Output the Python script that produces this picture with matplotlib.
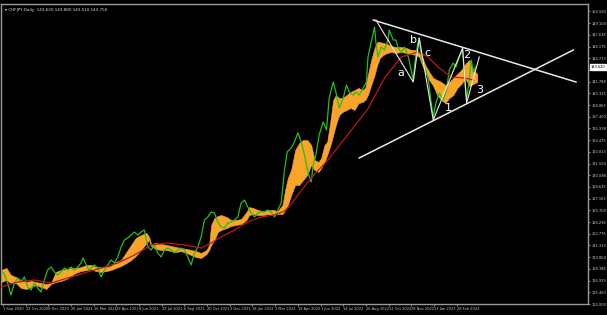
import numpy as np
import matplotlib
matplotlib.use("Agg")
import matplotlib.pyplot as plt
import matplotlib.transforms as mtransforms

# daily close (bar index, price)
close_bar = [2, 4, 10, 15, 20, 25, 30, 35, 40, 45, 50, 55, 60, 65, 70, 75, 80, 85, 90, 95,
             100, 105, 110, 115, 120, 123, 128, 132, 140, 145, 150, 155, 160, 165, 170, 175,
             180, 185, 190, 195, 200, 205, 210, 215, 218, 220, 225, 230, 235, 240, 245, 250,
             255, 260, 265, 270, 275, 280, 285, 290, 295, 300, 305, 310, 315, 320, 325, 330,
             335, 340, 345, 350, 355, 360, 365, 370, 375, 380, 385, 390, 395, 400, 405, 410,
             415, 420, 425, 429, 435, 440, 445, 450, 455, 460, 465, 468, 472, 477, 483, 488,
             492, 498, 502, 507, 513, 518, 522, 528, 532, 537, 543, 548, 550, 555, 560, 562,
             565, 570, 575, 580, 582, 588, 592, 595, 600, 605, 610, 615, 618, 621, 625, 627,
             630, 635, 640, 645, 648, 652, 657, 663, 668, 672, 678, 682, 687, 692, 695, 698,
             702, 705, 708, 711]
close_px = [118.00, 117.88, 116.62, 115.12, 116.62, 117.25, 116.75, 117.38, 116.12, 115.75,
            116.62, 116.00, 115.50, 117.00, 118.25, 118.62, 118.00, 117.62, 118.00, 118.50,
            118.25, 118.62, 118.25, 118.62, 119.12, 119.75, 118.88, 118.25, 118.88, 118.50,
            117.38, 118.25, 118.88, 119.50, 119.12, 119.88, 121.12, 122.00, 122.25, 122.62,
            123.00, 122.62, 123.00, 123.25, 122.00, 121.12, 120.75, 121.38, 120.38, 119.88,
            120.75, 121.00, 120.75, 120.38, 120.75, 121.00, 120.75, 119.88, 118.88, 120.38,
            121.12, 122.38, 124.50, 124.88, 125.50, 125.38, 124.25, 123.62, 123.50, 124.12,
            124.25, 124.50, 124.88, 126.62, 127.00, 126.12, 125.38, 124.88, 125.38, 125.50,
            125.50, 125.75, 125.50, 124.88, 125.75, 126.62, 130.75, 133.00, 133.50, 134.25,
            135.38, 134.25, 132.62, 130.50, 129.25, 131.38, 132.62, 135.12, 136.75, 135.75,
            139.75, 141.75, 140.50, 138.50, 139.75, 141.38, 140.50, 140.12, 140.50, 140.12,
            141.00, 141.75, 144.75, 146.75, 148.62, 146.75, 144.88, 146.12, 145.75, 147.00,
            148.25, 147.00, 147.00, 146.12, 145.38, 146.12, 145.12, 143.25, 142.00, 144.50,
            146.62, 147.25, 144.88, 143.62, 142.38, 139.12, 137.38, 139.12, 140.38, 139.50,
            140.75, 143.25, 144.12, 143.62, 144.88, 145.75, 142.38, 139.50, 142.00, 144.50,
            143.00, 143.62]

# cloud spans
cloud_bar = [0, 8, 15, 22, 30, 38, 45, 52, 60, 68, 75, 82, 90, 98, 105, 112, 120, 128, 135,
             142, 150, 158, 165, 172, 180, 188, 195, 202, 210, 218, 222, 225, 232, 240, 248,
             255, 262, 270, 278, 285, 292, 300, 308, 312, 315, 320, 325, 330, 338, 345, 352,
             360, 368, 372, 378, 385, 393, 400, 408, 415, 422, 426, 430, 435, 441, 447, 453,
             459, 465, 470, 476, 480, 485, 489, 494, 498, 502, 507, 512, 518, 524, 530, 536,
             542, 546, 550, 555, 560, 564, 568, 573, 579, 585, 592, 600, 608, 615, 622, 627,
             632, 636, 642, 648, 654, 660, 666, 672, 678, 684, 690, 696, 702, 708, 714]
span_a = [118.25, 118.50, 117.62, 117.38, 117.00, 116.75, 116.88, 116.75, 116.62, 116.50,
          116.62, 118.00, 118.25, 118.38, 118.50, 118.50, 118.62, 118.88, 118.88, 118.62,
          118.62, 118.62, 118.75, 119.25, 119.50, 120.50, 121.38, 122.25, 122.62, 122.88,
          122.38, 121.50, 121.62, 121.50, 121.38, 121.25, 121.12, 121.00, 120.88, 120.75,
          120.62, 120.38, 120.75, 121.38, 123.88, 124.75, 125.00, 125.12, 124.88, 124.50,
          124.50, 124.62, 125.50, 126.12, 126.00, 125.75, 125.62, 125.75, 125.75, 125.62,
          126.38, 128.25, 129.75, 130.75, 133.25, 134.12, 134.50, 134.50, 133.88, 132.00,
          131.75, 132.25, 133.88, 134.25, 137.00, 139.50, 140.12, 139.75, 139.75, 140.12,
          140.50, 140.75, 141.00, 140.75, 141.00, 142.62, 144.50, 146.00, 146.75, 146.75,
          146.62, 146.50, 146.25, 146.12, 146.12, 146.00, 145.75, 145.75, 145.50, 144.75,
          143.88, 143.00, 142.25, 142.00, 141.75, 141.38, 141.75, 142.25, 142.75, 143.25,
          144.00, 144.50, 143.25, 142.75]
span_b = [116.75, 117.00, 116.62, 116.62, 116.00, 115.88, 116.12, 116.38, 116.12, 115.88,
          116.50, 116.75, 116.88, 117.12, 117.50, 117.88, 118.12, 118.25, 118.38, 118.12,
          118.00, 118.12, 118.25, 118.50, 118.75, 119.12, 119.50, 120.00, 120.75, 121.62,
          122.00, 121.25, 120.88, 120.75, 120.75, 120.62, 120.50, 120.62, 120.38, 120.12,
          119.88, 119.75, 120.25, 120.75, 121.38, 122.00, 123.00, 123.25, 123.50, 123.75,
          123.88, 124.00, 124.50, 125.12, 125.25, 125.12, 125.12, 125.25, 125.12, 125.25,
          125.25, 125.75, 126.38, 127.62, 128.88, 128.88, 129.50, 130.12, 131.38, 130.75,
          130.50, 131.00, 131.75, 132.62, 133.88, 135.12, 136.38, 137.62, 138.00, 138.25,
          138.50, 138.25, 139.12, 139.25, 139.50, 140.12, 141.38, 142.62, 143.88, 144.75,
          145.12, 145.38, 145.50, 145.38, 145.50, 145.38, 145.25, 145.12, 144.88, 143.75,
          143.00, 142.00, 141.25, 140.12, 139.50, 139.12, 139.75, 140.12, 141.00, 141.50,
          142.25, 141.25, 141.50, 141.75]

# moving average
ma_bar = [0, 25, 50, 75, 100, 125, 150, 175, 200, 225, 250, 275, 300, 315, 330, 350, 370,
          390, 410, 425, 435, 445, 465, 490, 510, 530, 550, 575, 600, 625, 640, 655, 675,
          695, 708]
ma_px = [116.12, 116.75, 117.00, 116.62, 117.25, 117.88, 118.50, 119.12, 120.12, 121.38,
         121.62, 121.38, 121.00, 121.62, 122.38, 123.25, 124.25, 124.88, 125.12, 125.62,
         126.50, 127.62, 129.75, 132.00, 134.12, 136.25, 138.38, 142.25, 144.88, 145.50,
         144.88, 143.62, 142.38, 142.25, 142.00]

# triangle lines and wave count
upper_line = ([558, 862], [149.50, 141.75])
lower_line = ([537, 858], [132.25, 145.75])
wave_bar = [562, 618, 627, 648, 692, 698, 717]
wave_px = [149.50, 141.75, 147.25, 137.00, 146.00, 139.12, 144.88]
wave_labels = ["a", "b", "c", "1", "2", "3"]
label_bar = [600, 618, 639, 670, 698, 717]
label_px = [142.88, 147.00, 145.38, 138.50, 145.12, 140.75]

date_labels = ["1 Sep 2020", "22 Oct 2020", "9 Dec 2020", "26 Jan 2021", "16 Mar 2021",
               "29 Apr 2021", "8 Jun 2021", "22 Jul 2021", "6 Sep 2021", "20 Oct 2021",
               "3 Dec 2021", "18 Jan 2022", "3 Mar 2022", "18 Apr 2022", "1 Jun 2022",
               "14 Jul 2022", "26 Aug 2022", "12 Oct 2022", "28 Nov 2022", "13 Jan 2023",
               "28 Feb 2023"]
title = "CHFJPY,Daily  143.620 143.880 143.510 143.750"

fig = plt.figure(figsize=(6.07, 3.15), dpi=100, facecolor="black")
ax = fig.add_axes([1 / 607, 11 / 315, 587 / 607, 300 / 315], facecolor="black")

orange = "#F9A52A"
ax.fill_between(cloud_bar, span_a, span_b, color=orange, lw=0.4, edgecolor=orange, zorder=2)
ax.plot(close_bar, close_px, color="#22C01A", lw=0.9, zorder=3)
ax.plot(ma_bar, ma_px, color="#C0161C", lw=0.9, zorder=4)

ax.plot(upper_line[0], upper_line[1], color="#E8E8E8", lw=1.1, zorder=5)
ax.plot(lower_line[0], lower_line[1], color="#E8E8E8", lw=1.1, zorder=5)
ax.plot(wave_bar, wave_px, color="#E8E8E8", lw=0.8, zorder=5)
for lb, bx, py in zip(wave_labels, label_bar, label_px):
    ax.text(bx, py, lb, color="white", fontsize=8, ha="center", va="center", zorder=6)

ax.set_xlim(0, 880)
ax.set_ylim(114.0, 151.5)

yt = np.arange(114.0, 151.0, 1.4625)
ax.yaxis.tick_right()
ax.set_yticks(yt)
ax.set_yticklabels(["%.3f" % v for v in yt])
ax.set_xticks([3 + 34 * i for i in range(len(date_labels))])
ax.set_xticklabels(date_labels, ha="left")
ax.tick_params(colors="#C8C8C8", labelsize=2.6, length=1.5, width=0.5, pad=1.0)
for s in ax.spines.values():
    s.set_color("#9A9A9A")
    s.set_linewidth(1.0)

last = close_px[-1]
trans = mtransforms.blended_transform_factory(ax.transAxes, ax.transData)
ax.text(1.004, last, "%.3f" % last, transform=trans, fontsize=2.6, color="black",
        va="center", ha="left",
        bbox=dict(facecolor="white", edgecolor="white", pad=0.5))

ax.text(0.006, 0.985, "\u25BE " + title, transform=ax.transAxes, fontsize=3.0,
        color="#DDDDDD", va="top", ha="left")

fig.savefig("out.png", dpi=100, facecolor="black")
